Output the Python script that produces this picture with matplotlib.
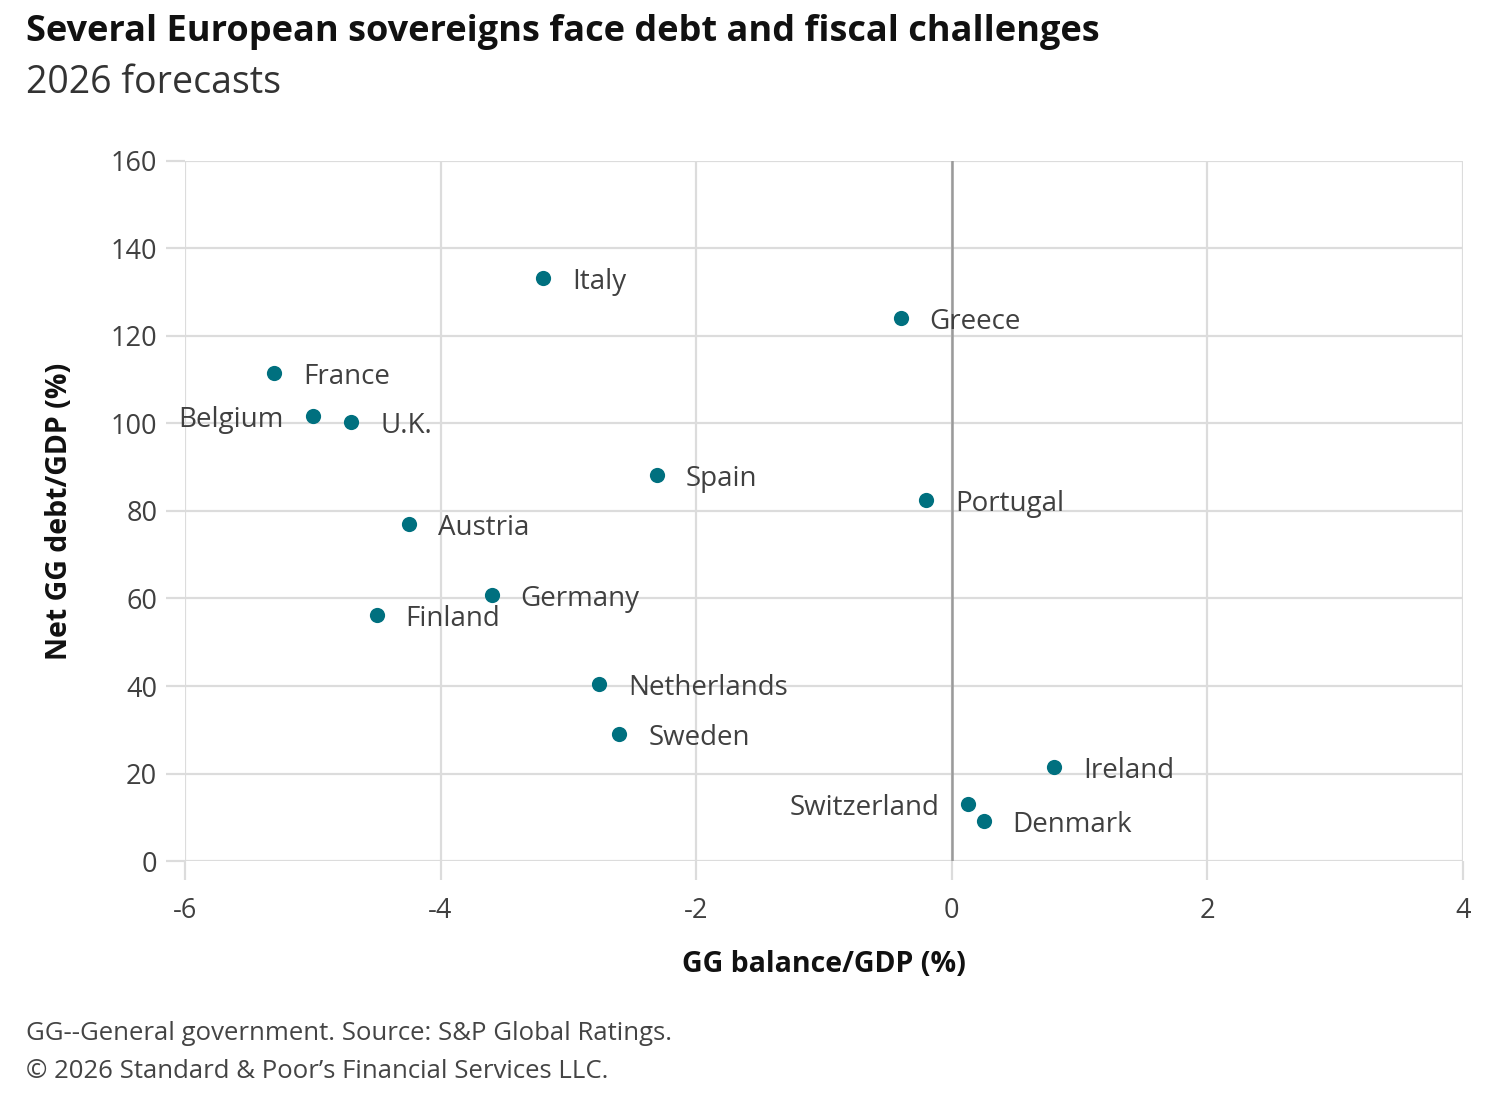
import matplotlib
matplotlib.use('Agg')
import matplotlib.pyplot as plt

plt.rcParams['font.family'] = ['Open Sans', 'DejaVu Sans']

countries = ['Italy', 'Greece', 'France', 'Belgium', 'U.K.', 'Spain', 'Portugal',
             'Austria', 'Germany', 'Finland', 'Netherlands', 'Sweden', 'Ireland',
             'Switzerland', 'Denmark']
balance = [-3.20, -0.40, -5.30, -5.00, -4.70, -2.31, -0.20,
           -4.25, -3.60, -4.50, -2.76, -2.60, 0.80, 0.13, 0.25]
debt = [133.3, 124.1, 111.5, 101.7, 100.3, 88.2, 82.5,
        77.0, 60.8, 56.2, 40.5, 29.0, 21.5, 13.0, 9.1]
left_labels = ['Belgium', 'Switzerland']

xticks = [-6, -4, -2, 0, 2, 4]
yticks = [0, 20, 40, 60, 80, 100, 120, 140, 160]

dot_color = '#00707f'
grid_color = '#dcdcdc'
text_color = '#404040'

fig = plt.figure(figsize=(15, 11.1), dpi=100)
ax = fig.add_axes([0.1233, 0.2243, 0.852, 0.6307])

ax.set_xlim(-6, 4)
ax.set_ylim(0, 160)
ax.set_xticks(xticks)
ax.set_yticks(yticks)
ax.set_xticklabels([str(t) for t in xticks])
ax.grid(True, color=grid_color, linewidth=1.6)
ax.set_axisbelow(True)
for s in ax.spines.values():
    s.set_visible(False)
ax.tick_params(axis='both', length=14, width=1.6, color=grid_color,
               labelsize=19.5, labelcolor=text_color)
ax.tick_params(axis='x', pad=12)
ax.tick_params(axis='y', pad=6)

ax.axvline(0, color='#9a9a9a', linewidth=1.8, zorder=1.5)

ax.scatter(balance, debt, s=120, color=dot_color, zorder=3, linewidths=0)

for name, x, y in zip(countries, balance, debt):
    if name in left_labels:
        ax.annotate(name, (x, y), xytext=(-29, -4), textcoords='offset pixels',
                    ha='right', va='center', fontsize=20, color=text_color)
    else:
        ax.annotate(name, (x, y), xytext=(29, -4), textcoords='offset pixels',
                    ha='left', va='center', fontsize=20, color=text_color)

ax.set_xlabel('GG balance/GDP (%)', fontsize=20.5, fontweight='bold', labelpad=18,
              color='#111111')
ax.set_ylabel('Net GG debt/GDP (%)', fontsize=20.5, fontweight='bold', labelpad=26,
              color='#111111')

fig.text(0.017, 0.971, 'Several European sovereigns face debt and fiscal challenges',
         fontsize=26, fontweight='bold', color='#111111', va='center')
fig.text(0.017, 0.925, '2026 forecasts', fontsize=27, color='#333333', va='center')
fig.text(0.017, 0.069, 'GG--General government. Source: S&P Global Ratings.',
         fontsize=18.5, color='#444444', va='center')
fig.text(0.017, 0.035, '\u00a9 2026 Standard & Poor\u2019s Financial Services LLC.',
         fontsize=18.5, color='#444444', va='center')

fig.savefig('out.png', dpi=100)
